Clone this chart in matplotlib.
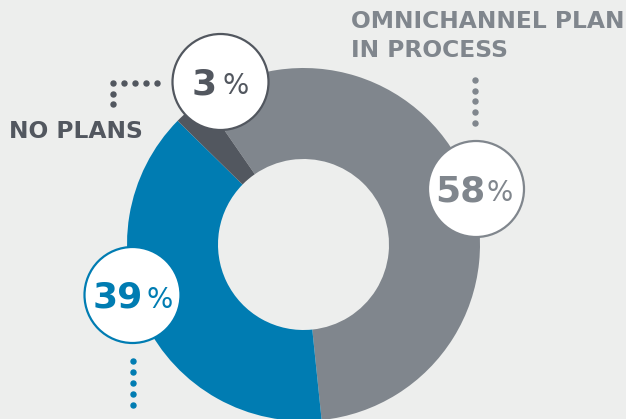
import matplotlib.pyplot as plt
from matplotlib.patches import Circle
import numpy as np

# data
labels = ['OMNICHANNEL PLAN\nIN PROCESS', 'YES', 'NO PLANS']
values = [58, 39, 3]
colors = ['#80868d', '#007cb2', '#52575f']

BG = '#edeeed'
H = 419

fig = plt.figure(figsize=(6.26, 4.19), dpi=100, facecolor=BG)
ax = fig.add_axes([0, 0, 1, 1])
ax.set_facecolor(BG)

cx, cy, r = 303.5, H - 244.5, 176.5
ax.pie(values, colors=colors, startangle=124.7, counterclock=False,
       center=(cx, cy), radius=r, frame=True,
       wedgeprops=dict(width=91, linewidth=0))
ax.set_xlim(0, 626)
ax.set_ylim(0, H)
ax.set_aspect('equal')
ax.axis('off')

# label bubbles: (circle x, circle y, text centre x, gap to %)
bubbles = [(476, 189, 474, 1), (132.5, 295, 132.5, 4), (220.5, 82, 220.5, 6)]
pairs = []
for (bx, by, tx, gap), v, c in zip(bubbles, values, colors):
    y = H - by
    ax.add_patch(Circle((bx, y), 48, facecolor='white', edgecolor=c, lw=1.6, zorder=5))
    t1 = ax.text(tx, y - 12.5, str(v), ha='right', va='baseline', fontsize=26,
                 fontweight='bold', color=c, zorder=6)
    t2 = ax.text(tx + gap, y - 12.5, '%', ha='left', va='baseline', fontsize=20,
                 color=c, zorder=6)
    pairs.append((t1, t2, tx))

# centre each number+% pair on its target x (1 data unit = 1 pixel here)
fig.canvas.draw()
rend = fig.canvas.get_renderer()
for t1, t2, tx in pairs:
    b1 = t1.get_window_extent(rend)
    b2 = t2.get_window_extent(rend)
    shift = tx - (b1.x0 + b2.x1) / 2
    for t in (t1, t2):
        x, y = t.get_position()
        t.set_position((x + shift, y))

# dotted leader lines
dot = dict(ls='none', marker='o', ms=3.6, zorder=4)
ax.plot([475] * 5, H - np.linspace(80, 122.7, 5), color=colors[0], **dot)
ax.plot([132.7] * 5, H - np.linspace(360.7, 404.7, 5), color=colors[1], **dot)
ax.plot(np.linspace(113.3, 157, 5), [H - 83.3] * 5, color=colors[2], **dot)
ax.plot([113.3, 113.3], [H - 94.3, H - 104.3], color=colors[2], **dot)

# category texts
ax.text(351, H - 21.5, 'OMNICHANNEL PLAN', ha='left', va='center', fontsize=16.8,
        fontweight='bold', color=colors[0])
ax.text(351, H - 50.5, 'IN PROCESS', ha='left', va='center', fontsize=16.8,
        fontweight='bold', color=colors[0])
ax.text(9, H - 131.5, 'NO PLANS', ha='left', va='center', fontsize=16.8,
        fontweight='bold', color=colors[2])

fig.savefig('out.png', dpi=100, facecolor=BG)
